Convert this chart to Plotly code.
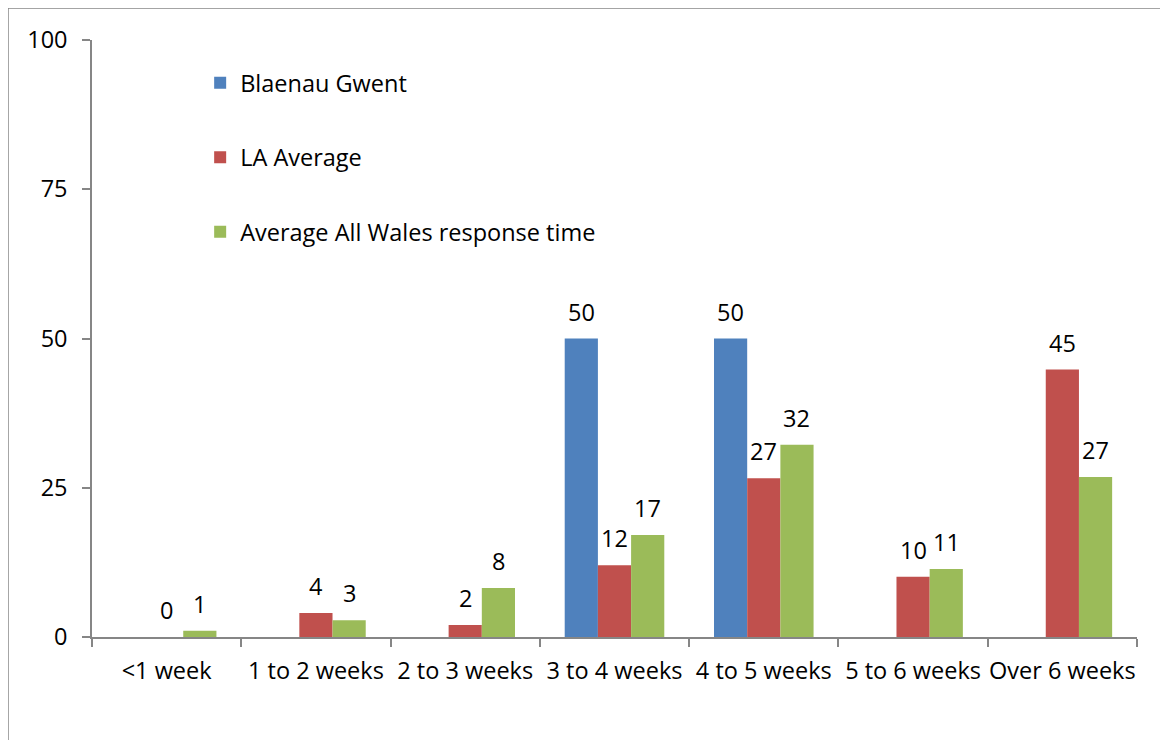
"""Response time comparison - Blaenau Gwent vs LA / All Wales averages"""

import plotly.graph_objects as go

# Data
categories = ['<1 week', '1 to 2 weeks', '2 to 3 weeks', '3 to 4 weeks',
              '4 to 5 weeks', '5 to 6 weeks', 'Over 6 weeks']
blaenauGwent = [None, None, None, 50, 50, None, None]
laAverage = [0, 4.0, 2.0, 12.0, 26.6, 10.1, 44.8]
walesAverage = [1.05, 2.8, 8.2, 17.1, 32.2, 11.4, 26.8]
yTicks = [0, 25, 50, 75, 100]

# Colours (Excel 2007 default palette)
colBlue = '#4F81BD'
colRed = '#C0504D'
colGreen = '#9BBB59'
axisCol = '#868686'
font = 'Open Sans'
fsize = 23.5


def main():

    fig = go.Figure()

    series = [
        ('Blaenau Gwent', blaenauGwent, colBlue),
        ('LA Average', laAverage, colRed),
        ('Average All Wales response time', walesAverage, colGreen),
    ]
    for name, vals, col in series:
        fig.add_trace(go.Bar(
            x=categories, y=vals, name=name, legendgroup=name,
            marker=dict(color=col, line=dict(width=0)),
        ))

    # page body has an 8px margin, so the figure is 8px smaller each way
    w, h = 1160, 732
    ml, mr, mt, mb = 84, 31, 32, 103
    fig.update_layout(
        width=w, height=h, autosize=False,
        margin=dict(l=ml, r=mr, t=mt, b=mb),
        paper_bgcolor='white', plot_bgcolor='white',
        font=dict(family=font, size=fsize, color='black'),
        barmode='group', bargap=0.333, bargroupgap=0,
        showlegend=True,
        legend=dict(x=0.1035, y=0.965, xanchor='left', yanchor='top',
                    traceorder='grouped', tracegroupgap=41,
                    bgcolor='rgba(0,0,0,0)',
                    font=dict(family=font, size=fsize, color='black')),
    )

    # data labels, lifted off the bar tops like Excel does
    barPx = (w - ml - mr) / len(categories) * (1 - 0.333) / len(series)
    for i, (name, vals, col) in enumerate(series):
        for cat, v in zip(categories, vals):
            if v is None:
                continue
            fig.add_annotation(x=cat, y=v, text='%.0f' % v, showarrow=False,
                               yanchor='bottom', yshift=9,
                               xshift=(i - 1) * barPx,
                               font=dict(family=font, size=fsize, color='black'))

    fig.update_xaxes(
        showline=True, linecolor=axisCol, linewidth=1.5,
        ticks='outside', tickson='boundaries', ticklen=8,
        tickcolor=axisCol, tickwidth=1.5, showgrid=False,
        ticklabelstandoff=12, tickangle=0, automargin=False,
        tickfont=dict(family=font, size=fsize, color='black'),
    )
    fig.update_yaxes(
        range=[0, 100], tickvals=yTicks, showline=True,
        linecolor=axisCol, linewidth=1.5, ticks='outside', ticklen=8,
        tickcolor=axisCol, tickwidth=1.5, showgrid=False, zeroline=False,
        ticklabelstandoff=10, automargin=False,
        tickfont=dict(family=font, size=fsize, color='black'),
    )

    # chart area border (only left and top edges are visible in the picture)
    fig.add_shape(type='rect', xref='paper', yref='paper',
                  x0=-0.0804, x1=1.2, y0=-0.4, y1=1.0536,
                  line=dict(color=axisCol, width=1.5), layer='below')

    fig.write_html("out.html")


if __name__ == '__main__':
    main()
